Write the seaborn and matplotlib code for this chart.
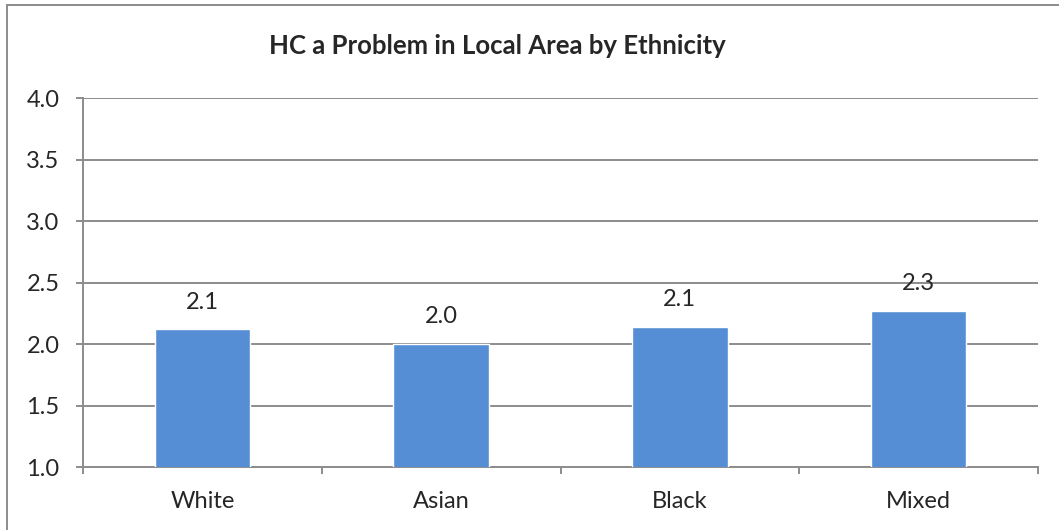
import matplotlib
matplotlib.use("Agg")
import matplotlib.pyplot as plt
import seaborn as sns
import pandas as pd
from matplotlib.patches import Rectangle

# Werte
ethnicities = ["White", "Asian", "Black", "Mixed"]
scores = [2.12, 2.00, 2.14, 2.27]
y_ticks = [1.0, 1.5, 2.0, 2.5, 3.0, 3.5, 4.0]

df = pd.DataFrame({"Ethnicity": ethnicities, "Score": scores})

sns.set_style("white")
plt.rcParams["font.family"] = ["Lato", "DejaVu Sans"]

fig = plt.figure(figsize=(10.59, 5.30), dpi=100)
ax = fig.add_axes([83 / 1059, 1 - 467 / 530, (1038 - 83) / 1059, (467 - 98) / 530])

grid_col = "#8c8c8c"
sns.barplot(data=df, x="Ethnicity", y="Score", color="#558ED5", saturation=1,
            width=0.4, ax=ax, zorder=3)

ax.set_ylim(1.0, 4.0)
ax.set_xlim(-0.5, len(ethnicities) - 0.5)
ax.set_yticks(y_ticks)
ax.set_yticklabels([f"{v:.1f}" for v in y_ticks])
ax.yaxis.grid(True, color=grid_col, linewidth=1.4, zorder=0)
ax.set_axisbelow(True)

for side in ["top", "right"]:
    ax.spines[side].set_visible(False)
for side in ["left", "bottom"]:
    ax.spines[side].set_color(grid_col)
    ax.spines[side].set_linewidth(1.4)

ax.tick_params(axis="y", direction="out", length=5, width=1.4, color=grid_col,
               labelsize=17, pad=12, left=True)
ax.tick_params(axis="x", which="major", length=0, labelsize=17, pad=17)
ax.set_xticks([i - 0.5 for i in range(len(ethnicities) + 1)], minor=True)
ax.tick_params(axis="x", which="minor", direction="out", length=5, width=1.4,
               color=grid_col, bottom=True)

ax.set_xlabel("")
ax.set_ylabel("")

labels = [f"{v:.1f}" for v in scores]
ax.bar_label(ax.containers[0], labels=labels, padding=12, fontsize=17)

fig.text(497 / 1059, 1 - 46 / 530, "HC a Problem in Local Area by Ethnicity",
         ha="center", va="center", fontsize=18.5, fontweight="bold")

# Rahmen des Diagrammbereichs
fig.patches.append(Rectangle((7 / 1059, -0.1), 1.2, 1 - 5 / 530 + 0.1,
                             transform=fig.transFigure, fill=False,
                             edgecolor="#8c8c8c", linewidth=1.4))

fig.savefig("out.png", dpi=100)
